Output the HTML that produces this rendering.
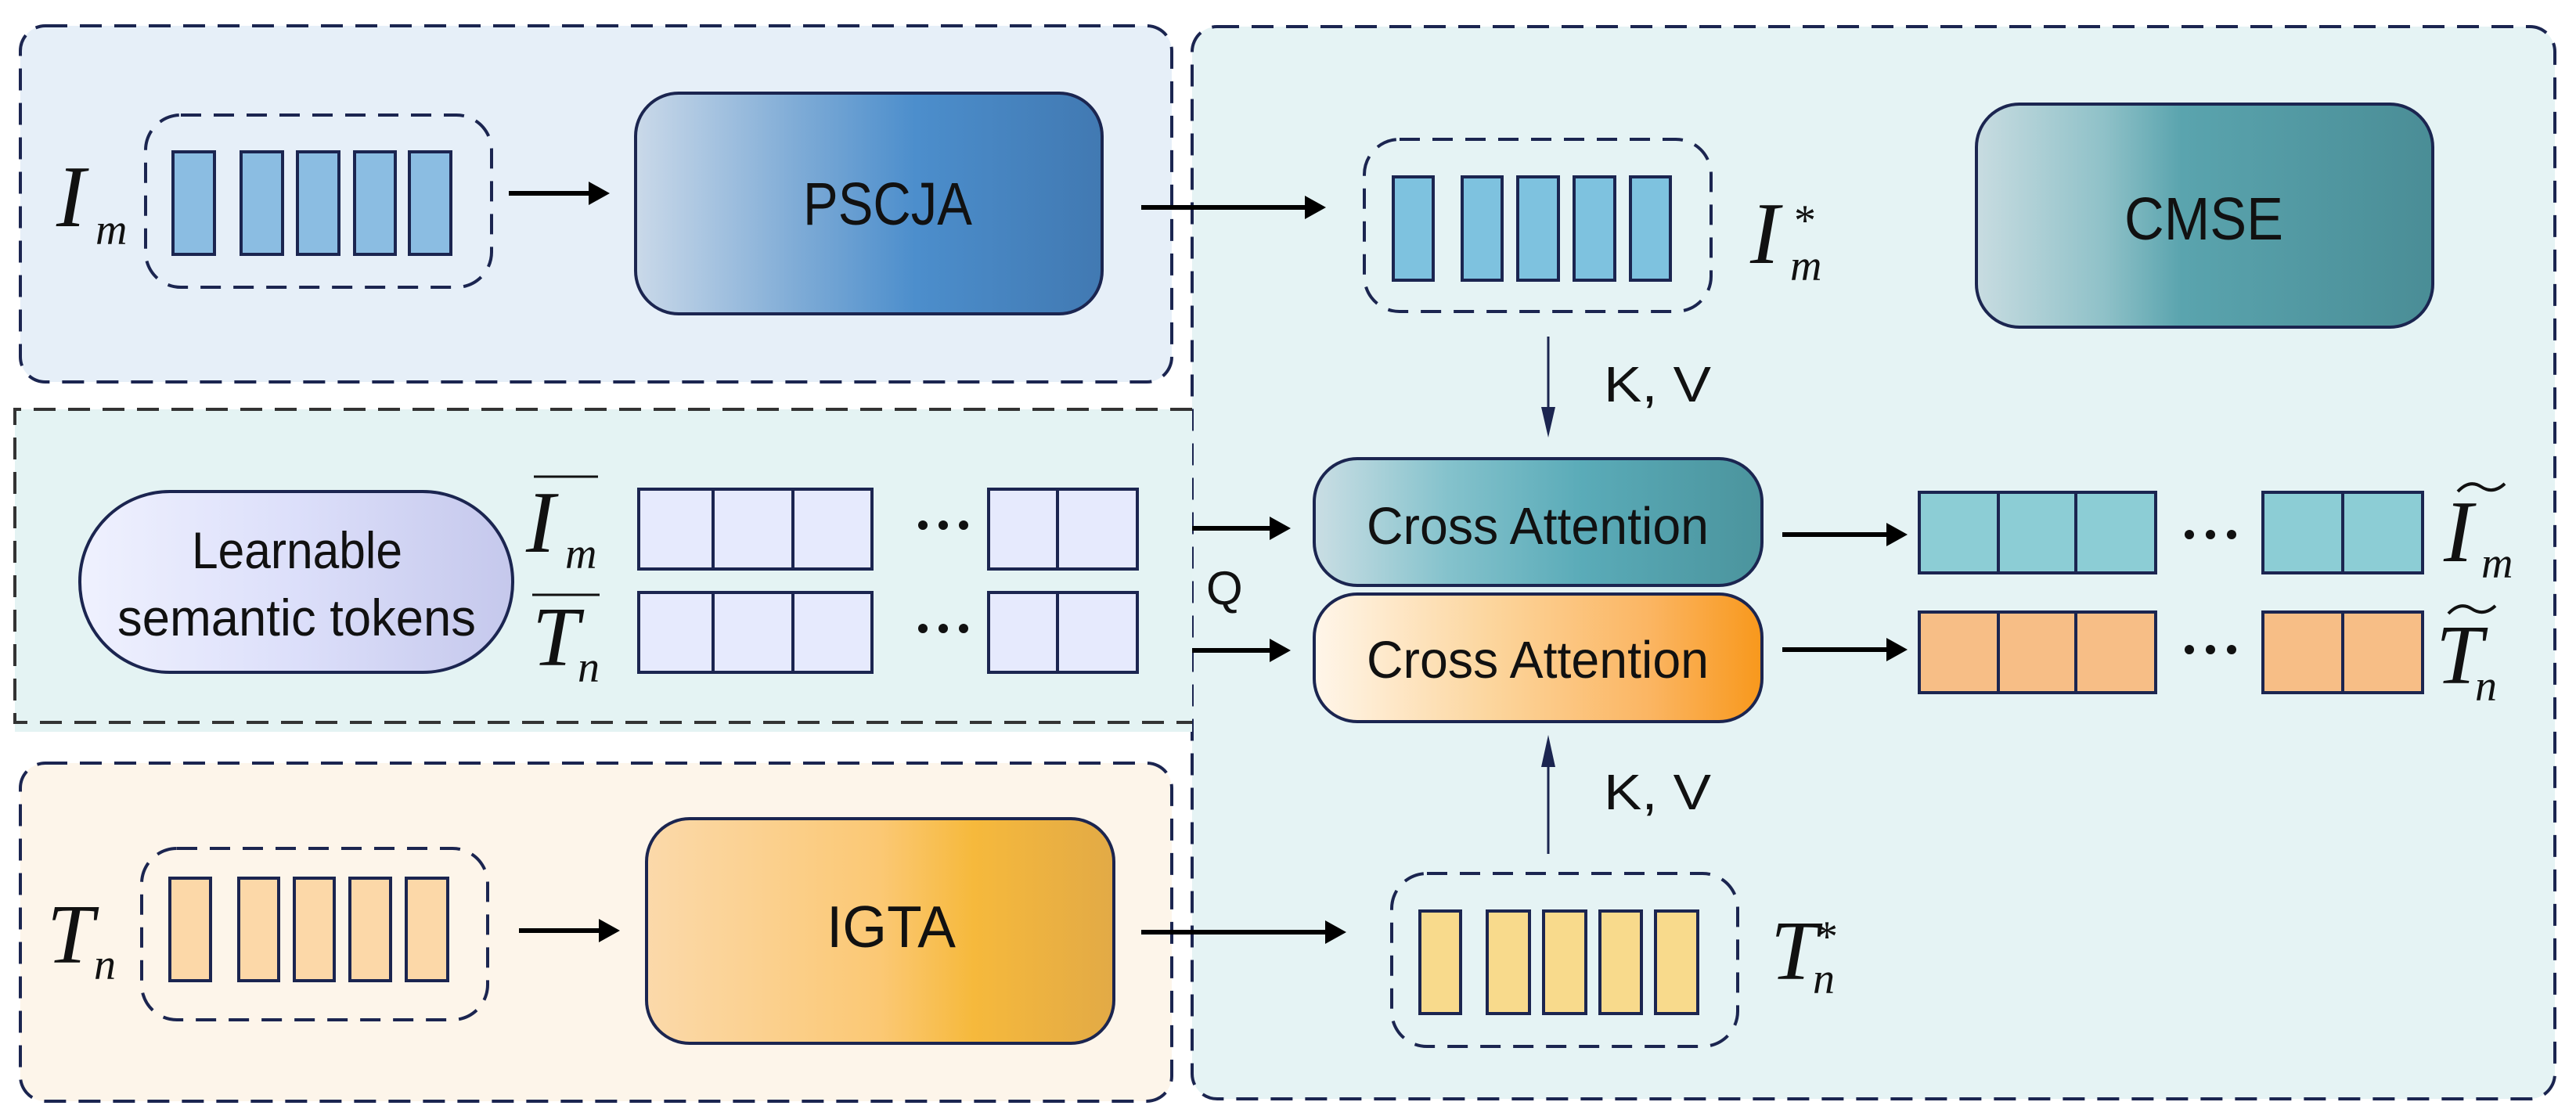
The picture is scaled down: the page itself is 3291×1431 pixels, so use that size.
<!DOCTYPE html>
<html><head><meta charset="utf-8"><style>html,body{margin:0;padding:0;background:#fff}svg{display:block}</style></head>
<body>
<svg width="3291" height="1431" viewBox="0 0 3291 1431" xmlns="http://www.w3.org/2000/svg">
<defs>
<linearGradient id="gP" x1="0" x2="1"><stop offset="0" stop-color="#cad9e9"/><stop offset="0.35" stop-color="#7eabd6"/><stop offset="0.6" stop-color="#4c8ecc"/><stop offset="1" stop-color="#4179b2"/></linearGradient>
<linearGradient id="gC" x1="0" x2="1"><stop offset="0" stop-color="#c8dce1"/><stop offset="0.28" stop-color="#8fc1c8"/><stop offset="0.45" stop-color="#5aa4ae"/><stop offset="1" stop-color="#4a8d96"/></linearGradient>
<linearGradient id="gA1" x1="0" x2="1"><stop offset="0" stop-color="#cadee4"/><stop offset="0.3" stop-color="#84c2cc"/><stop offset="0.6" stop-color="#5aabb8"/><stop offset="1" stop-color="#4b949d"/></linearGradient>
<linearGradient id="gA2" x1="0" x2="1"><stop offset="0" stop-color="#fff6ea"/><stop offset="0.4" stop-color="#fcd59c"/><stop offset="0.75" stop-color="#fbb562"/><stop offset="1" stop-color="#f8981c"/></linearGradient>
<linearGradient id="gI" x1="0" x2="1"><stop offset="0" stop-color="#fbd9aa"/><stop offset="0.5" stop-color="#fbc874"/><stop offset="0.7" stop-color="#f6b93c"/><stop offset="1" stop-color="#e2aa46"/></linearGradient>
<linearGradient id="gL" x1="0" x2="1"><stop offset="0" stop-color="#eff1fe"/><stop offset="0.5" stop-color="#dcdffa"/><stop offset="1" stop-color="#c5c8ec"/></linearGradient>
</defs>

<!-- panels -->
<rect x="1523" y="34" width="1741" height="1370" rx="32" fill="#e5f3f4" stroke="#1b2550" stroke-width="4" stroke-dasharray="28 16"/>
<rect x="19" y="523" width="1504" height="412" fill="#e4f3f3"/>
<path d="M1523 523 H19 V923 H1523" fill="none" stroke="#333" stroke-width="4" stroke-dasharray="28 16"/>
<rect x="26" y="33" width="1471" height="455" rx="32" fill="#e6eff8" stroke="#1b2550" stroke-width="4" stroke-dasharray="28 16"/>
<rect x="26" y="975" width="1471" height="432" rx="32" fill="#fdf5ea" stroke="#1b2550" stroke-width="4" stroke-dasharray="28 16"/>

<g font-family="Liberation Sans, sans-serif" fill="#111">
<!-- top row -->
<rect x="186" y="147" width="442" height="220" rx="45" fill="none" stroke="#1b2550" stroke-width="4" stroke-dasharray="26 16"/>
<g fill="#8bbde2" stroke="#1b2550" stroke-width="4">
<rect x="221" y="194" width="53" height="131"/><rect x="308" y="194" width="53" height="131"/><rect x="380" y="194" width="53" height="131"/><rect x="453" y="194" width="52" height="131"/><rect x="523" y="194" width="53" height="131"/></g>
<line x1="650" y1="247" x2="755" y2="247" stroke="#000" stroke-width="6"/><path d="M779 247 L752 232 L752 262Z" fill="#000"/>
<rect x="812" y="119" width="596" height="282" rx="55" fill="url(#gP)" stroke="#1b2550" stroke-width="4"/>
<text x="1026" y="287" font-size="77" textLength="216" lengthAdjust="spacingAndGlyphs">PSCJA</text>
<line x1="1458" y1="265" x2="1670" y2="265" stroke="#000" stroke-width="6"/><path d="M1694 265 L1667 250 L1667 280Z" fill="#000"/>
<rect x="1743" y="178" width="443" height="220" rx="45" fill="none" stroke="#1b2550" stroke-width="4" stroke-dasharray="26 16"/>
<g fill="#7ec2df" stroke="#1b2550" stroke-width="4">
<rect x="1780" y="226" width="51" height="132"/><rect x="1868" y="226" width="51" height="132"/><rect x="1939" y="226" width="52" height="132"/><rect x="2011" y="226" width="52" height="132"/><rect x="2083" y="226" width="51" height="132"/></g>
<rect x="2525" y="133" width="583" height="285" rx="55" fill="url(#gC)" stroke="#1b2550" stroke-width="4"/>
<text x="2714" y="306" font-size="77" textLength="203" lengthAdjust="spacingAndGlyphs">CMSE</text>

<!-- KV down -->
<line x1="1978" y1="430" x2="1978" y2="530" stroke="#1b2550" stroke-width="3"/><path d="M1978 559 L1969 520 L1987 520Z" fill="#1b2550"/>
<text x="2049" y="513" font-size="64" textLength="137" lengthAdjust="spacingAndGlyphs">K,  V</text>

<!-- middle -->
<rect x="102" y="628" width="553" height="231" rx="115" fill="url(#gL)" stroke="#1b2550" stroke-width="4"/>
<text x="245" y="726" font-size="66" textLength="269" lengthAdjust="spacingAndGlyphs">Learnable</text>
<text x="150" y="812" font-size="66" textLength="458" lengthAdjust="spacingAndGlyphs">semantic tokens</text>
<g fill="#e6eafd" stroke="#1b2550" stroke-width="4">
<rect x="816" y="625" width="298" height="102"/><rect x="1263" y="625" width="190" height="102"/>
<rect x="816" y="757" width="298" height="102"/><rect x="1263" y="757" width="190" height="102"/></g>
<g stroke="#1b2550" stroke-width="4"><line x1="911" y1="625" x2="911" y2="727"/><line x1="1013" y1="625" x2="1013" y2="727"/><line x1="1351" y1="625" x2="1351" y2="727"/>
<line x1="911" y1="757" x2="911" y2="859"/><line x1="1013" y1="757" x2="1013" y2="859"/><line x1="1351" y1="757" x2="1351" y2="859"/></g>
<g fill="#111"><circle cx="1179" cy="671" r="6"/><circle cx="1205" cy="671" r="6"/><circle cx="1231" cy="671" r="6"/>
<circle cx="1179" cy="803" r="6"/><circle cx="1205" cy="803" r="6"/><circle cx="1231" cy="803" r="6"/></g>
<line x1="1523" y1="675" x2="1625" y2="675" stroke="#000" stroke-width="6"/><path d="M1649 675 L1622 660 L1622 690Z" fill="#000"/>
<line x1="1523" y1="831" x2="1625" y2="831" stroke="#000" stroke-width="6"/><path d="M1649 831 L1622 816 L1622 846Z" fill="#000"/>
<text x="1541" y="772" font-size="60">Q</text>
<rect x="1679" y="586" width="572" height="162" rx="55" fill="url(#gA1)" stroke="#1b2550" stroke-width="4"/>
<text x="1746" y="695" font-size="67" textLength="437" lengthAdjust="spacingAndGlyphs">Cross Attention</text>
<rect x="1679" y="759" width="572" height="163" rx="55" fill="url(#gA2)" stroke="#1b2550" stroke-width="4"/>
<text x="1746" y="866" font-size="67" textLength="437" lengthAdjust="spacingAndGlyphs">Cross Attention</text>
<line x1="2277" y1="683" x2="2412" y2="683" stroke="#000" stroke-width="6"/><path d="M2437 683 L2410 668 L2410 698Z" fill="#000"/>
<line x1="2277" y1="830" x2="2412" y2="830" stroke="#000" stroke-width="6"/><path d="M2437 830 L2410 815 L2410 845Z" fill="#000"/>
<g fill="#8ccdd5" stroke="#1b2550" stroke-width="4"><rect x="2452" y="629" width="302" height="103"/><rect x="2891" y="629" width="204" height="103"/></g>
<g fill="#f7be86" stroke="#1b2550" stroke-width="4"><rect x="2452" y="782" width="302" height="103"/><rect x="2891" y="782" width="204" height="103"/></g>
<g stroke="#1b2550" stroke-width="4"><line x1="2553" y1="629" x2="2553" y2="732"/><line x1="2652" y1="629" x2="2652" y2="732"/><line x1="2993" y1="629" x2="2993" y2="732"/>
<line x1="2553" y1="782" x2="2553" y2="885"/><line x1="2652" y1="782" x2="2652" y2="885"/><line x1="2993" y1="782" x2="2993" y2="885"/></g>
<g fill="#111"><circle cx="2797" cy="683" r="6"/><circle cx="2824" cy="683" r="6"/><circle cx="2851" cy="683" r="6"/>
<circle cx="2797" cy="830" r="6"/><circle cx="2824" cy="830" r="6"/><circle cx="2851" cy="830" r="6"/></g>

<!-- KV up -->
<line x1="1978" y1="1091" x2="1978" y2="975" stroke="#1b2550" stroke-width="3"/><path d="M1978 939 L1969 980 L1987 980Z" fill="#1b2550"/>
<text x="2049" y="1034" font-size="64" textLength="137" lengthAdjust="spacingAndGlyphs">K,  V</text>

<!-- bottom -->
<rect x="181" y="1084" width="442" height="219" rx="45" fill="none" stroke="#1b2550" stroke-width="4" stroke-dasharray="26 16"/>
<g fill="#fcd8a8" stroke="#1b2550" stroke-width="4">
<rect x="217" y="1122" width="52" height="131"/><rect x="305" y="1122" width="51" height="131"/><rect x="376" y="1122" width="51" height="131"/><rect x="447" y="1122" width="52" height="131"/><rect x="519" y="1122" width="53" height="131"/></g>
<line x1="663" y1="1189" x2="768" y2="1189" stroke="#000" stroke-width="6"/><path d="M792 1189 L765 1174 L765 1204Z" fill="#000"/>
<rect x="826" y="1046" width="597" height="287" rx="55" fill="url(#gI)" stroke="#1b2550" stroke-width="4"/>
<text x="1056" y="1210" font-size="75" textLength="165" lengthAdjust="spacingAndGlyphs">IGTA</text>
<line x1="1458" y1="1191" x2="1696" y2="1191" stroke="#000" stroke-width="6"/><path d="M1720 1191 L1693 1176 L1693 1206Z" fill="#000"/>
<rect x="1778" y="1116" width="442" height="221" rx="45" fill="none" stroke="#1b2550" stroke-width="4" stroke-dasharray="26 16"/>
<g fill="#f8da8c" stroke="#1b2550" stroke-width="4">
<rect x="1814" y="1164" width="52" height="131"/><rect x="1900" y="1164" width="54" height="131"/><rect x="1972" y="1164" width="54" height="131"/><rect x="2044" y="1164" width="53" height="131"/><rect x="2115" y="1164" width="54" height="131"/></g>
</g>

<!-- math labels -->
<g font-family="Liberation Serif, serif" font-style="italic" fill="#111">
<text x="72" y="289" font-size="112">I</text><text x="122" y="312" font-size="56">m</text>
<text x="2236" y="336" font-size="112">I</text><text x="2292" y="300" font-size="56" font-style="normal">*</text><text x="2287" y="358" font-size="56">m</text>
<line x1="682" y1="609" x2="764" y2="609" stroke="#111" stroke-width="3"/>
<text x="672" y="705" font-size="112">I</text><text x="722" y="726" font-size="56">m</text>
<line x1="680" y1="760" x2="766" y2="760" stroke="#111" stroke-width="3"/>
<text x="680" y="850" font-size="108">T</text><text x="738" y="871" font-size="56">n</text>
<text x="3122" y="717" font-size="112">I</text><text x="3170" y="738" font-size="56">m</text>
<path d="M3140 628 Q3155 612 3170 622 Q3185 632 3200 618" fill="none" stroke="#111" stroke-width="4"/>
<text x="3112" y="873" font-size="108">T</text><text x="3162" y="895" font-size="56">n</text>
<path d="M3128 784 Q3143 768 3158 778 Q3173 788 3188 774" fill="none" stroke="#111" stroke-width="4"/>
<text x="60" y="1230" font-size="108">T</text><text x="120" y="1251" font-size="56">n</text>
<text x="2262" y="1251" font-size="108">T</text><text x="2320" y="1215" font-size="56" font-style="normal">*</text><text x="2316" y="1269" font-size="56">n</text>
</g>
</svg>
</body></html>
